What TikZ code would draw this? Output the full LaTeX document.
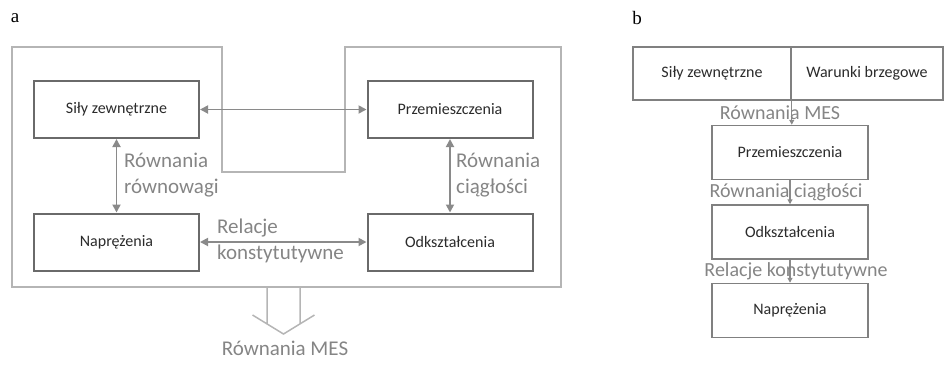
\documentclass[tikz,border=0pt]{standalone}
\usepackage{fontspec}
\setmainfont{Carlito}
\newfontfamily\panelfont{Liberation Serif}
\usetikzlibrary{arrows.meta, positioning, calc}
\definecolor{boxLine}{HTML}{6A6A6A}
\definecolor{boxText}{HTML}{2B2B2B}
\definecolor{frameLine}{HTML}{B5B5B5}
\definecolor{connGray}{HTML}{8A8A8A}
\definecolor{labelGray}{HTML}{858585}

\begin{document}
\begin{tikzpicture}[
    x=1pt, y=-1pt,
    % ── shared styles ───────────────────────────────────────────────
    quantity/.style={
        rectangle, draw=boxLine, line width=2pt, fill=white,
        font=\fontsize{16}{19}\selectfont, text=boxText,
        minimum width=165pt, minimum height=57pt,
        inner sep=0pt, align=center,
    },
    quantity b/.style={
        quantity, line width=1.5pt, draw=boxLine!85,
        minimum width=156pt, minimum height=54pt,
    },
    relation/.style={
        font=\fontsize{21}{26}\selectfont, text=labelGray,
        inner sep=0pt, align=left,
    },
    relation b/.style={
        font=\fontsize{20}{24}\selectfont, text=labelGray,
        inner sep=0pt, align=center,
    },
    panel/.style={
        font=\panelfont\fontsize{19}{21}\selectfont, inner sep=0pt,
    },
    conn both/.style={
        {Triangle[length=8pt,width=8pt]}-{Triangle[length=8pt,width=8pt]},
        connGray, line width=1.8pt,
    },
    conn down/.style={
        -{Triangle[length=5pt,width=5pt]},
        connGray, line width=1.2pt,
    },
]
\useasboundingbox (0,0) rectangle (944,365);

% =============================================================
%  PANEL a
% =============================================================
\node[panel] (labA) at (15,18) {a};

% Outer frame
\draw[frameLine, line width=1.5pt]
    (12,47) -- (222,47) -- (222,172) -- (345,172) -- (345,47)
    -- (561,47) -- (561,287) -- (12,287) -- cycle;

% Quantities
\node[quantity] (silyA)  at (116.5,109.5) {Siły zewnętrzne};
\node[quantity] (przemA) at (450,109.5)   {Przemieszczenia};
\node[quantity] (naprA)  at (116.5,242)   {Naprężenia};
\node[quantity] (odkA)   at (450,242)     {Odkształcenia};

% Connections
\draw[conn both] (silyA.east) -- (przemA.west);
\draw[conn both] (silyA.south) -- (naprA.north);
\draw[conn both] (przemA.south) -- (odkA.north);
\draw[conn both] (naprA.east) -- (odkA.west);

% Relation labels
\node[relation, anchor=west] (rownowagi) at (124,175) {Równania\\równowagi};
\node[relation, anchor=west] (ciaglosc)  at (456,175) {Równania\\ciągłości};
\node[relation, anchor=west] (konstA)    at (217,241) {Relacje\\konstytutywne};

% Hollow output arrow
\coordinate (mesTip) at (283.5,334);
\draw[frameLine, line width=1.5pt]
    (267,287) -- (267,324)
    (300,287) -- (300,324)
    (252.5,315) -- (mesTip) -- (314.5,315);
\node[relation, anchor=north] (mesA) at ($(mesTip)+(1.5,7)$) {Równania MES};

% =============================================================
%  PANEL b
% =============================================================
\node[panel] (labB) at (637,18) {b};

% Quantities
\node[quantity b, minimum width=158pt, minimum height=53pt] (silyB)
    at (712,73.5) {Siły zewnętrzne};
\node[quantity b, minimum width=152pt, minimum height=53pt] (warunkiB)
    at (867,73.5) {Warunki brzegowe};
\node[quantity b] (przemB) at (790,152.5) {Przemieszczenia};
\node[quantity b] (odkB)   at (790,232)   {Odkształcenia};
\node[quantity b] (naprB)  at (790,310.5) {Naprężenia};

% Connections
\draw[conn down] (silyB.south east) -- (przemB.north -| silyB.south east);
\draw[conn down] (przemB.south) -- (odkB.north);
\draw[conn down] (odkB.south) -- (naprB.north);

% Relation labels
\node[relation b] (mesB)    at (780,113) {Równania MES};
\node[relation b] (ciagB)   at (786,192.5) {Równania ciągłości};
\node[relation b] (konstB)  at (796,271) {Relacje konstytutywne};

\end{tikzpicture}
\end{document}
